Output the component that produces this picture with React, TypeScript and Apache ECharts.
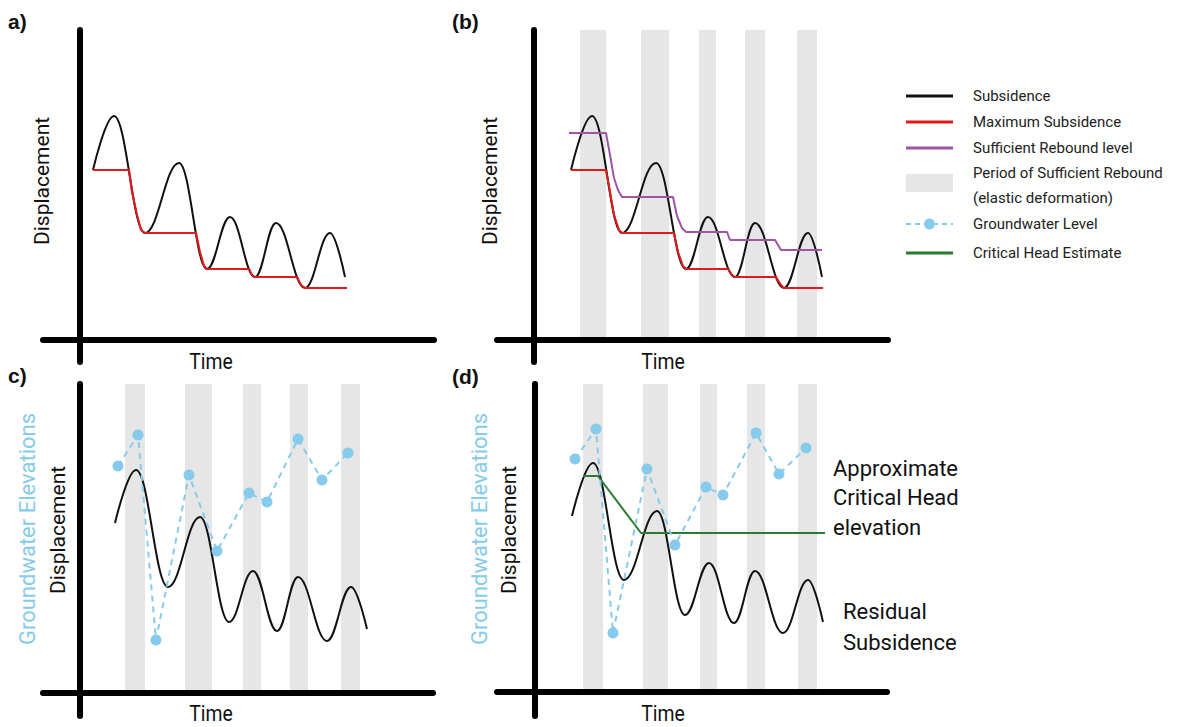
import React, { useEffect, useRef } from "react";
import * as echarts from "echarts";

// ---------- Data (local units: x = time from vertical axis, y = displacement above time axis) ----------
// Panel a
const aSubsidence = [[13, 170], [34, 224], [65, 107], [99, 177], [127, 71], [150, 123], [175, 63], [196, 117], [225, 52], [250, 107], [265, 63]];
const aMaxSubsidence = [[13, 170], [49, 170], [52, 148], [57, 125], [61, 110], [65, 107], [116, 107], [120, 88], [124, 74], [127, 71], [169, 71], [172, 65], [175, 63], [217, 63], [221, 55], [225, 52], [267, 52]];

// Panel b
const bSubsidence = [[37, 170], [58, 224], [88, 107], [122, 177], [152, 71], [174, 123], [201, 63], [221, 117], [250, 52], [274, 107], [288, 63]];
const bMaxSubsidence = [[37, 170], [72, 170], [76, 148], [80, 125], [85, 110], [88, 107], [140, 107], [144, 88], [149, 74], [152, 71], [194, 71], [198, 65], [201, 63], [242, 63], [247, 55], [250, 52], [289, 52]];
const bReboundLevel = [[35, 207], [72, 207], [76, 185], [80, 162], [84, 150], [88, 143], [139, 143], [143, 124], [148, 112], [152, 108], [193, 108], [196, 100], [241, 100], [247, 90], [288, 90]];
const bBands = [[46, 72], [107, 135], [165, 182], [211, 231], [263, 283]];

// Panel c
const cSubsidence = [[35, 170], [56, 223], [88, 106], [120, 176], [149, 71], [173, 122], [197, 62], [218, 116], [247, 52], [271, 106], [287, 64]];
const cGroundwater = [[38, 227], [58, 258], [76, 53], [109, 218], [137, 142], [169, 200], [187, 191], [218, 254], [242, 213], [268, 240]];
const cBands = [[45, 65], [105, 132], [163, 181], [210, 228], [261, 280]];

// Panel d
const dSubsidence = [[37, 176], [58, 229], [89, 112], [122, 181], [150, 77], [174, 129], [199, 69], [220, 121], [248, 59], [273, 112], [288, 70]];
const dGroundwater = [[40, 233], [61, 263], [78, 59], [112, 223], [140, 147], [171, 205], [188, 197], [221, 259], [244, 218], [271, 244]];
const dCriticalHead = [[48, 216], [63, 216], [106, 159], [290, 159]];
const dBands = [[48, 68], [108, 133], [165, 182], [212, 230], [263, 282]];

// Axis extents per panel
const panelXRange = [[-37, 354], [-37, 354], [-37, 353], [-38, 352]];
const panelYRange = [[-22, 310], [-22, 310], [-23, 309], [-24, 308]];

const panelLabels = ["a)", "(b)", "c)", "(d)"];
const legendNames = ["Subsidence", "Maximum Subsidence", "Sufficient Rebound level", "Period of Sufficient Rebound", "(elastic deformation)", "Groundwater Level", "Critical Head Estimate"];

// ---------- Styles ----------
const BLACK = "#111111";
const RED = "#e3191c";
const PURPLE = "#9e55a6";
const BAND = "#e6e6e6";
const BLUE = "#86cbeb";
const GREEN = "#2b7a30";
const FONT = "Roboto, 'Noto Sans', sans-serif";

const grids = [
  { left: 43, top: 30, width: 391, height: 332 },
  { left: 497, top: 30, width: 391, height: 332 },
  { left: 43, top: 384, width: 390, height: 332 },
  { left: 497, top: 384, width: 390, height: 332 },
];

function bandSeries(bands: number[][], idx: number) {
  const top = panelYRange[idx][1];
  return {
    type: "custom",
    xAxisIndex: idx,
    yAxisIndex: idx,
    z: 1,
    silent: true,
    data: bands.map((b) => [b[0], b[1], 0, top]),
    encode: { x: [0, 1], y: [2, 3] },
    renderItem: (_params: any, api: any) => {
      const p0 = api.coord([api.value(0), api.value(3)]);
      const p1 = api.coord([api.value(1), api.value(2)]);
      return {
        type: "rect",
        shape: { x: p0[0], y: p0[1], width: p1[0] - p0[0], height: p1[1] - p0[1] },
        style: { fill: BAND },
      };
    },
  };
}

function curve(data: number[][], idx: number, color: string, smooth: boolean, z: number) {
  return {
    type: "line",
    xAxisIndex: idx,
    yAxisIndex: idx,
    data,
    smooth: smooth ? 0.4 : false,
    smoothMonotone: smooth ? "x" : undefined,
    symbol: "none",
    showSymbol: false,
    lineStyle: { color, width: 2 },
    z,
    silent: true,
  };
}

function groundwater(data: number[][], idx: number) {
  return {
    type: "line",
    xAxisIndex: idx,
    yAxisIndex: idx,
    data,
    symbol: "circle",
    symbolSize: 11,
    showSymbol: true,
    itemStyle: { color: BLUE },
    lineStyle: { color: BLUE, width: 2, type: [6, 5] },
    z: 5,
    silent: true,
  };
}

function text(str: string, x: number, y: number, size: number, opts: any = {}) {
  return {
    type: "text",
    x,
    y,
    rotation: opts.rotation || 0,
    scaleX: opts.scaleX || 1,
    style: {
      text: str,
      fill: opts.color || BLACK,
      font: `${opts.weight || "normal"} ${size}px ${opts.family || FONT}`,
      textAlign: opts.align || "center",
      textVerticalAlign: "middle",
    },
    z: 20,
  };
}

export default function App() {
  const ref = useRef<HTMLDivElement>(null);

  useEffect(() => {
    if (!ref.current) return;
    const chart = echarts.init(ref.current, undefined, { renderer: "svg" });

    const axisCommon = {
      type: "value",
      z: 10,
      axisTick: { show: false },
      axisLabel: { show: false },
      splitLine: { show: false },
      axisLine: { show: true, onZero: true, lineStyle: { color: "#000", width: 6 } },
    };

    const graphicEls: any[] = [];
    // Panel labels
    const labelPos = [[8, 21], [452, 21], [8, 375], [452, 376]];
    panelLabels.forEach((l, i) =>
      graphicEls.push(text(l, labelPos[i][0], labelPos[i][1], 21, { weight: "bold", align: "left", family: "'Liberation Sans', Arial, sans-serif" }))
    );
    // Axis titles
    const timePos = [[211, 362], [663, 362], [211, 714], [663, 714]];
    timePos.forEach((p) => graphicEls.push(text("Time", p[0], p[1], 22, { scaleX: 0.88 })));
    const dispPos = [[42, 181], [490, 181], [58, 530], [509, 530]];
    dispPos.forEach((p) => graphicEls.push(text("Displacement", p[0], p[1], 21, { rotation: Math.PI / 2 })));
    [[27, 529], [479, 529]].forEach((p) =>
      graphicEls.push(text("Groundwater Elevations", p[0], p[1], 22, { rotation: Math.PI / 2, color: BLUE }))
    );
    // Annotations in panel d
    graphicEls.push(text("Approximate", 833, 468, 22, { align: "left" }));
    graphicEls.push(text("Critical Head", 833, 497, 22, { align: "left" }));
    graphicEls.push(text("elevation", 833, 527, 22, { align: "left" }));
    graphicEls.push(text("Residual", 843, 611, 22, { align: "left" }));
    graphicEls.push(text("Subsidence", 843, 642, 22, { align: "left" }));

    // Legend
    const lx1 = 906, lx2 = 953, tx = 973;
    const rowY = [96, 122, 148, 173, 198, 224, 253];
    graphicEls.push({ type: "line", shape: { x1: lx1, y1: rowY[0], x2: lx2, y2: rowY[0] }, style: { stroke: BLACK, lineWidth: 3 } });
    graphicEls.push({ type: "line", shape: { x1: lx1, y1: rowY[1], x2: lx2, y2: rowY[1] }, style: { stroke: RED, lineWidth: 3 } });
    graphicEls.push({ type: "line", shape: { x1: lx1, y1: rowY[2], x2: lx2, y2: rowY[2] }, style: { stroke: PURPLE, lineWidth: 3 } });
    graphicEls.push({ type: "rect", shape: { x: lx1, y: 174, width: lx2 - lx1, height: 18 }, style: { fill: BAND } });
    graphicEls.push({ type: "line", shape: { x1: lx1, y1: rowY[5], x2: lx2, y2: rowY[5] }, style: { stroke: BLUE, lineWidth: 2, lineDash: [5, 4] } });
    graphicEls.push({ type: "circle", shape: { cx: (lx1 + lx2) / 2, cy: rowY[5], r: 5.5 }, style: { fill: BLUE } });
    graphicEls.push({ type: "line", shape: { x1: lx1, y1: rowY[6], x2: lx2, y2: rowY[6] }, style: { stroke: GREEN, lineWidth: 3 } });
    legendNames.forEach((n, i) => graphicEls.push(text(n, tx, rowY[i], 15, { align: "left", color: "#222" })));

    const option: any = {
      animation: false,
      backgroundColor: "#ffffff",
      grid: grids.map((g) => ({ ...g, containLabel: false })),
      xAxis: grids.map((_, i) => ({ ...axisCommon, gridIndex: i, min: panelXRange[i][0], max: panelXRange[i][1] })),
      yAxis: grids.map((_, i) => ({ ...axisCommon, gridIndex: i, min: panelYRange[i][0], max: panelYRange[i][1] })),
      series: [
        // a
        curve(aSubsidence, 0, BLACK, true, 2),
        curve(aMaxSubsidence, 0, RED, false, 3),
        // b
        bandSeries(bBands, 1),
        curve(bSubsidence, 1, BLACK, true, 2),
        curve(bMaxSubsidence, 1, RED, false, 3),
        curve(bReboundLevel, 1, PURPLE, false, 4),
        // c
        bandSeries(cBands, 2),
        curve(cSubsidence, 2, BLACK, true, 2),
        groundwater(cGroundwater, 2),
        // d
        bandSeries(dBands, 3),
        curve(dSubsidence, 3, BLACK, true, 2),
        groundwater(dGroundwater, 3),
        curve(dCriticalHead, 3, GREEN, false, 4),
      ],
      graphic: { elements: graphicEls },
    };

    chart.setOption(option);
    return () => chart.dispose();
  }, []);

  return (
    <div
      ref={ref}
      style={{ position: "fixed", left: 0, top: 0, width: 1185, height: 727, background: "#fff" }}
    />
  );
}
